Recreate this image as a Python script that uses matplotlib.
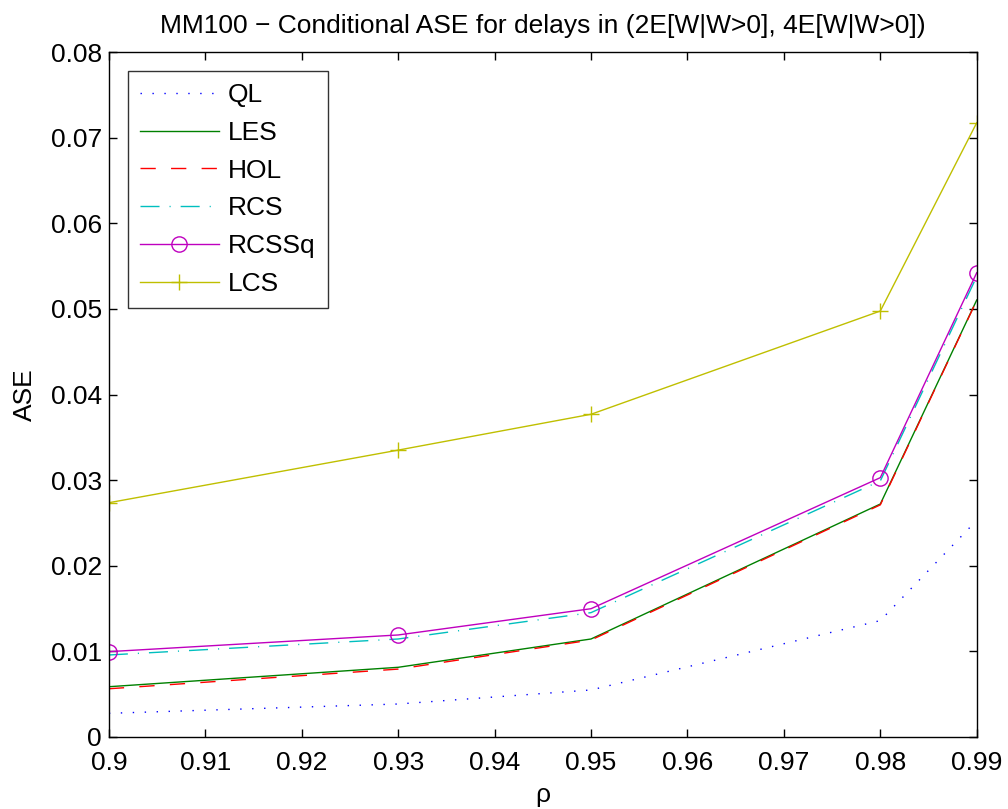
import matplotlib
matplotlib.use("Agg")
import matplotlib.pyplot as plt

plt.rcParams['font.family'] = ['Liberation Sans', 'DejaVu Sans']

rho = [0.90, 0.93, 0.95, 0.98, 0.99]
ql = [0.00273, 0.00382, 0.00546, 0.01357, 0.0253]
les = [0.00584, 0.00811, 0.01142, 0.0272, 0.05105]
hol = [0.0056, 0.0079, 0.0113, 0.0271, 0.0510]
rcs = [0.00955, 0.01142, 0.0145, 0.0299, 0.0538]
rcssq = [0.00994, 0.01189, 0.01496, 0.03028, 0.05424]
lcs = [0.02735, 0.0335, 0.03769, 0.04976, 0.07177]

xticks = [0.9, 0.91, 0.92, 0.93, 0.94, 0.95, 0.96, 0.97, 0.98, 0.99]
yticks = [0, 0.01, 0.02, 0.03, 0.04, 0.05, 0.06, 0.07, 0.08]

fs = 19

fig = plt.figure(figsize=(10.08, 8.09), dpi=100)
ax = fig.add_axes([0.108, 0.0894, 0.861, 0.8459])

lw = 1.0
ax.plot(rho, ql, color='b', linestyle=(0, (1, 7.6)), lw=lw, label='QL')
ax.plot(rho, les, color=(0, 0.5, 0), linestyle='-', lw=lw, label='LES')
ax.plot(rho, hol, color='r', linestyle=(0, (11, 11)), lw=lw, label='HOL')
ax.plot(rho, rcs, color=(0, 0.75, 0.75), linestyle=(0, (13.7, 7.2, 0.8, 7.2)), lw=lw, label='RCS')
ax.plot(rho, rcssq, color=(0.75, 0, 0.75), linestyle='-', lw=lw, marker='o',
        markersize=11, markerfacecolor='none', markeredgewidth=1.0, label='RCSSq')
ax.plot(rho, lcs, color=(0.75, 0.75, 0), linestyle='-', lw=lw, marker='+',
        markersize=11, markeredgewidth=1.0, label='LCS')

ax.set_xlim(0.9, 0.99)
ax.set_ylim(0, 0.08)
ax.set_xticks(xticks)
ax.set_xticklabels([f'{t:g}' for t in xticks])
ax.set_yticks(yticks)
ax.set_yticklabels([f'{t:g}' for t in yticks])
ax.tick_params(direction='in', length=6, width=1, labelsize=fs, top=True, right=True)
ax.tick_params(axis='x', pad=10)
ax.tick_params(axis='y', pad=5)
for s in ax.spines.values():
    s.set_linewidth(1.0)

ax.set_xlabel('ρ', fontsize=fs, labelpad=6)
ax.set_ylabel('ASE', fontsize=fs, labelpad=10)
ax.set_title('MM100 − Conditional ASE for delays in (2E[W|W>0], 4E[W|W>0])', fontsize=fs, pad=14)

leg = ax.legend(loc='upper left', fontsize=fs, handlelength=3.0, frameon=True,
                fancybox=False, edgecolor='k', borderpad=0.45, labelspacing=0.52,
                borderaxespad=0.72, handletextpad=0.35)
leg.get_frame().set_linewidth(1.0)

fig.savefig('out.png', dpi=100)
